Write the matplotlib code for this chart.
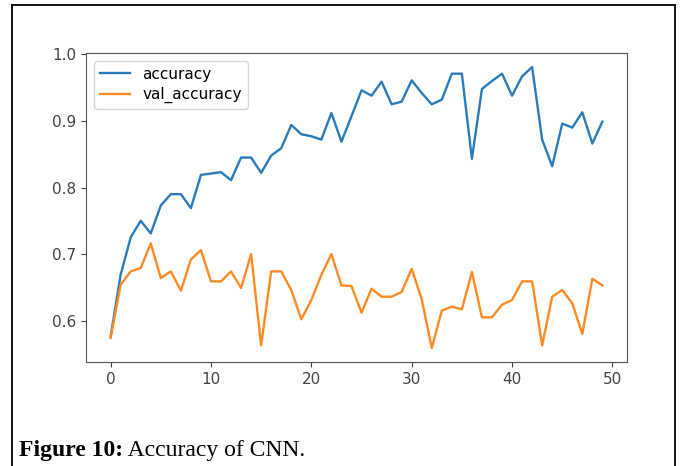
import matplotlib
matplotlib.use("Agg")
import matplotlib.pyplot as plt
from matplotlib.lines import Line2D

# values
epochs = list(range(50))
accuracy = [0.576, 0.669, 0.725, 0.750, 0.731, 0.773, 0.790, 0.790, 0.769, 0.819,
            0.821, 0.823, 0.811, 0.845, 0.845, 0.822, 0.848, 0.859, 0.894, 0.880,
            0.877, 0.872, 0.912, 0.869, 0.907, 0.946, 0.938, 0.959, 0.925, 0.929,
            0.961, 0.942, 0.925, 0.932, 0.971, 0.971, 0.843, 0.948, 0.960, 0.971,
            0.938, 0.967, 0.981, 0.872, 0.832, 0.896, 0.890, 0.913, 0.866, 0.899]
val_accuracy = [0.574, 0.654, 0.674, 0.679, 0.716, 0.664, 0.674, 0.645, 0.692, 0.706,
                0.659, 0.659, 0.674, 0.649, 0.700, 0.563, 0.674, 0.674, 0.646, 0.602,
                0.631, 0.669, 0.700, 0.653, 0.652, 0.612, 0.648, 0.636, 0.636, 0.643,
                0.678, 0.632, 0.559, 0.615, 0.621, 0.617, 0.673, 0.605, 0.605, 0.624,
                0.631, 0.659, 0.659, 0.563, 0.636, 0.646, 0.626, 0.580, 0.663, 0.653]
caption_bold = "Figure 10:"
caption_rest = " Accuracy of CNN."

fig = plt.figure(figsize=(6.8, 4.66), dpi=100)
ax = fig.add_axes([0.1265, 0.2232, 0.7955, 0.6631])

ax.plot(epochs, accuracy, color='#2b7bba', lw=1.7, label='accuracy')
ax.plot(epochs, val_accuracy, color='#ff8a24', lw=1.7, label='val_accuracy')

ax.set_xticks([0, 10, 20, 30, 40, 50])
ax.set_yticks([0.6, 0.7, 0.8, 0.9, 1.0])
ax.tick_params(labelsize=11, colors='#444444')
for s in ax.spines.values():
    s.set_color('#555555')
ax.legend(loc='upper left', fontsize=11, labelspacing=0.35)

# outer frame of the figure panel
fig.add_artist(Line2D([12/680, 12/680], [0, 1 - 5/466], color='black', lw=1.3))
fig.add_artist(Line2D([12/680, 675/680], [1 - 5/466, 1 - 5/466], color='black', lw=1.3))
fig.add_artist(Line2D([675/680, 675/680], [0, 1 - 5/466], color='black', lw=1.3))

t = fig.text(19/680, 1 - 456/466, caption_bold, fontsize=17, fontweight='bold',
             family='Liberation Serif', va='baseline', ha='left')
fig.canvas.draw()
bb = t.get_window_extent()
fig.text(bb.x1 / 680, 1 - 456/466, caption_rest, fontsize=17,
         family='Liberation Serif', va='baseline', ha='left')

fig.savefig('out.png', dpi=100)
